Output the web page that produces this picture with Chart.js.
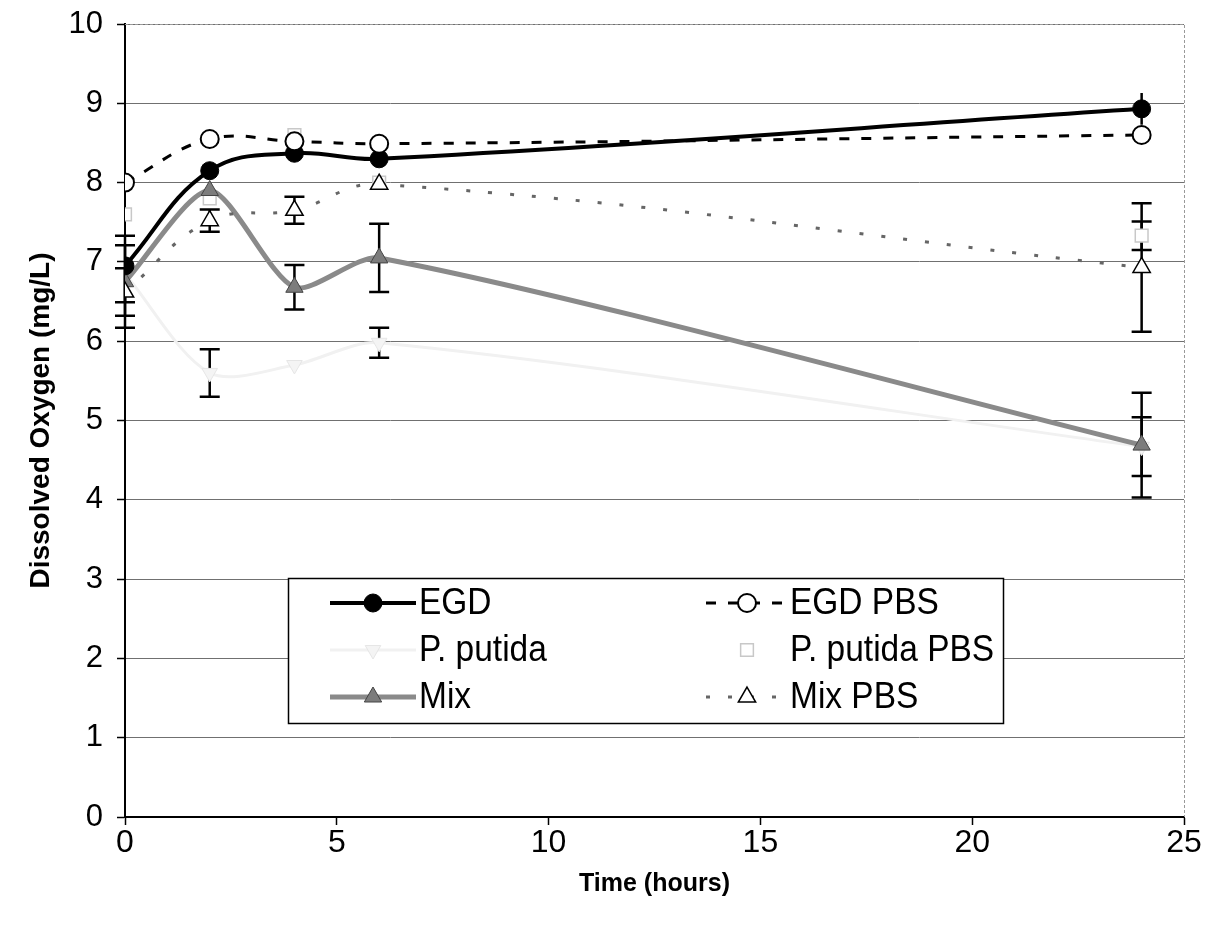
<!DOCTYPE html>
<html>
<head>
<meta charset="utf-8">
<script src="https://cdn.jsdelivr.net/npm/chart.js@4/dist/chart.umd.min.js"></script>
<style>
html,body{margin:0;padding:0;background:#fff;}
canvas{display:block;}
</style>
</head>
<body>
<canvas id="c" width="1213" height="931"></canvas>
<script>
// ---- data ----
const times = [0, 2, 4, 6, 24];
const egd = [6.95, 8.15, 8.37, 8.3, 8.93];
const egdErr = [0, 0, 0, 0, 0.2];
const egdPbs = [8.0, 8.55, 8.52, 8.49, 8.6];
const egdPbsErr = [0, 0, 0, 0, 0];
const putida = [6.85, 5.6, 5.7, 5.98, 4.67];
const putidaErr = [0.36, 0.3, 0, 0.19, 0.37];
const putidaPbs = [7.6, 7.8, 8.6, 8.0, 7.33];
const putidaPbsErr = [0, 0, 0, 0, 0.18];
const mix = [6.75, 7.9, 6.68, 7.05, 4.69];
const mixErr = [0.58, 0, 0.28, 0.43, 0.66];
const mixPbs = [6.62, 7.52, 7.65, 7.98, 6.93];
const mixPbsErr = [0.3, 0.14, 0.17, 0, 0.81];
const xTicks = [0, 5, 10, 15, 20, 25];
const yTicks = [0, 1, 2, 3, 4, 5, 6, 7, 8, 9, 10];
const seriesNames = ['EGD', 'EGD PBS', 'P. putida', 'P. putida PBS', 'Mix', 'Mix PBS'];

const pts = (arr) => times.map((t, i) => ({x: t, y: arr[i]}));
const FONT = '"Liberation Sans", Arial, sans-serif';

const datasets = [
  {label: seriesNames[0], data: pts(egd), err: egdErr, cap: 0, borderColor: '#000', backgroundColor: '#000',
   borderWidth: 4, pointStyle: 'circle', pointRadius: 9, pointBackgroundColor: '#000', pointBorderColor: '#000', pointBorderWidth: 1, tension: 0.4, order: 1},
  {label: seriesNames[1], data: pts(egdPbs), err: egdPbsErr, cap: 10, borderColor: '#000', backgroundColor: '#fff',
   borderWidth: 3, borderDash: [10, 12], pointStyle: 'circle', pointRadius: 9, pointBackgroundColor: '#fff', pointBorderColor: '#000', pointBorderWidth: 2, tension: 0.4, order: 0},
  {label: seriesNames[2], data: pts(putida), err: putidaErr, cap: 10, borderColor: '#f1f1f1', backgroundColor: '#f1f1f1',
   borderWidth: 3, pointStyle: 'triangle', pointRotation: 180, pointRadius: 9, pointBackgroundColor: '#f4f4f4', pointBorderColor: '#e6e6e6', pointBorderWidth: 1, tension: 0.3, order: 5},
  {label: seriesNames[3], data: pts(putidaPbs), err: putidaPbsErr, cap: 10, borderColor: 'rgba(0,0,0,0)', backgroundColor: '#fff', showLine: false,
   borderWidth: 0, pointStyle: 'rect', pointRadius: 9, pointBackgroundColor: '#fff', pointBorderColor: '#c8c8c8', pointBorderWidth: 1.5, order: 4},
  {label: seriesNames[4], data: pts(mix), err: mixErr, cap: 10, borderColor: '#8a8a8a', backgroundColor: '#8a8a8a',
   borderWidth: 5, pointStyle: 'triangle', pointRadius: 10, pointBackgroundColor: '#7c7c7c', pointBorderColor: '#444', pointBorderWidth: 1, tension: 0.25, order: 3},
  {label: seriesNames[5], data: pts(mixPbs), err: mixPbsErr, cap: 10, borderColor: '#666', backgroundColor: '#fff',
   borderWidth: 3, borderDash: [4, 18], pointStyle: 'triangle', pointRadius: 10, pointBackgroundColor: '#fff', pointBorderColor: '#000', pointBorderWidth: 1.5, tension: 0.4, order: 2}
];

const errorBars = {
  id: 'errorBars',
  beforeDatasetsDraw(chart) {
    const {ctx, scales: {x, y}, chartArea} = chart;
    ctx.save();
    ctx.strokeStyle = '#999';
    ctx.lineWidth = 1;
    ctx.setLineDash([3, 2]);
    ctx.beginPath();
    ctx.moveTo(chartArea.left, chartArea.top + 0.5);
    ctx.lineTo(chartArea.right + 0.5, chartArea.top + 0.5);
    ctx.lineTo(chartArea.right + 0.5, chartArea.bottom);
    ctx.stroke();
    ctx.setLineDash([]);
    ctx.strokeStyle = '#000';
    ctx.lineWidth = 2.5;
    chart.data.datasets.forEach(ds => {
      ds.data.forEach((p, i) => {
        const e = ds.err[i];
        if (!e) return;
        const px = x.getPixelForValue(p.x);
        const y1 = y.getPixelForValue(p.y + e);
        const y2 = y.getPixelForValue(p.y - e);
        ctx.beginPath();
        ctx.moveTo(px, y1); ctx.lineTo(px, y2);
        if (ds.cap) {
          ctx.moveTo(px - ds.cap, y1); ctx.lineTo(px + ds.cap, y1);
          ctx.moveTo(px - ds.cap, y2); ctx.lineTo(px + ds.cap, y2);
        }
        ctx.stroke();
      });
    });
    ctx.restore();
  }
};

const boxLegend = {
  id: 'boxLegend',
  afterDraw(chart) {
    const {ctx} = chart;
    ctx.save();
    const bx = 288, by = 578, bw = 715, bh = 145;
    ctx.fillStyle = '#fff';
    ctx.fillRect(bx, by, bw, bh);
    ctx.strokeStyle = '#000';
    ctx.lineWidth = 1.5;
    ctx.strokeRect(bx + 0.5, by + 0.5, bw, bh);
    const cols = [[330, 416, 419], [706, 788, 790]];
    const rows = [603, 650, 697];
    chart.data.datasets.forEach((ds, k) => {
      const c = cols[k % 2], r = rows[Math.floor(k / 2)];
      if (ds.showLine !== false) {
        ctx.save();
        ctx.strokeStyle = ds.borderColor;
        ctx.lineWidth = ds.borderWidth;
        ctx.setLineDash(ds.borderDash || []);
        ctx.beginPath();
        ctx.moveTo(c[0], r); ctx.lineTo(c[1], r);
        ctx.stroke();
        ctx.restore();
      }
      ctx.save();
      ctx.fillStyle = ds.pointBackgroundColor;
      ctx.strokeStyle = ds.pointBorderColor;
      ctx.lineWidth = ds.pointBorderWidth;
      Chart.helpers.drawPoint(ctx, {pointStyle: ds.pointStyle, radius: ds.pointRadius, rotation: ds.pointRotation || 0, borderWidth: ds.pointBorderWidth}, (c[0] + c[1]) / 2, r);
      ctx.restore();
      ctx.save();
      ctx.translate(c[2], r + 1);
      ctx.scale(0.93, 1);
      ctx.font = '36px ' + FONT;
      ctx.textBaseline = 'middle';
      ctx.fillStyle = '#000';
      ctx.fillText(ds.label, 0, 0);
      ctx.restore();
    });
    ctx.restore();
  }
};

new Chart(document.getElementById('c'), {
  type: 'line',
  data: {datasets},
  options: {
    responsive: false,
    animation: false,
    layout: {padding: {left: 0, top: 24, right: 29, bottom: 0}},
    plugins: {legend: {display: false}, tooltip: {enabled: false}, title: {display: false}},
    scales: {
      x: {
        type: 'linear', min: 0, max: 25,
        afterBuildTicks: (s) => { s.ticks = xTicks.map(v => ({value: v})); },
        afterFit: (s) => { s.height = 114; s.paddingLeft = 0; s.paddingRight = 0; },
        ticks: {color: '#000', font: {family: FONT, size: 32}, padding: -1, maxRotation: 0},
        grid: {drawOnChartArea: false, drawTicks: true, tickLength: 8, tickColor: '#000', tickWidth: 1.5},
        border: {color: '#000', width: 2},
        title: {display: true, text: 'Time (hours)', color: '#000', font: {family: FONT, size: 25, weight: 'bold'}, padding: {top: 0, bottom: 32}}
      },
      y: {
        type: 'linear', min: 0, max: 10,
        afterBuildTicks: (s) => { s.ticks = yTicks.map(v => ({value: v})); },
        afterFit: (s) => { s.width = 125; s.paddingTop = 0; s.paddingBottom = 0; },
        ticks: {color: '#000', font: {family: FONT, size: 31}, padding: 14},
        grid: {color: '#707070', lineWidth: 1, drawTicks: true, tickLength: 8, tickColor: '#000', tickWidth: 1.5},
        border: {color: '#000', width: 2},
        title: {display: true, text: 'Dissolved Oxygen (mg/L)', color: '#000', font: {family: FONT, size: 28, weight: 'bold'}, padding: {top: 24, bottom: 0}}
      }
    }
  },
  plugins: [errorBars, boxLegend]
});
</script>
</body>
</html>
